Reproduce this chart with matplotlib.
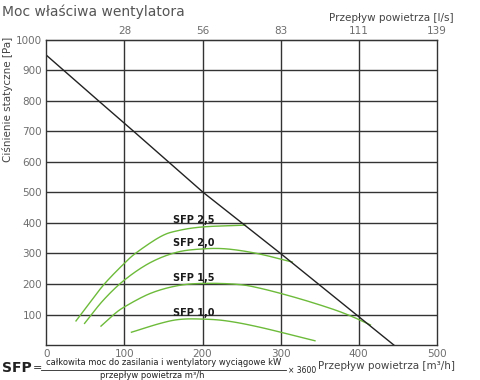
import numpy as np
import matplotlib.pyplot as plt

# data (x in m3/h, y in Pa)
line_x = [0, 67, 112, 201, 300, 445]
line_y = [950, 800, 700, 500, 300, 0]

sfp25_x = [38, 56, 75, 100, 116, 146, 167, 200, 255]
sfp25_y = [79, 140, 202, 268, 304, 355, 374, 387, 393]
sfp20_x = [49, 73, 100, 133, 167, 200, 231, 270, 315]
sfp20_y = [71, 147, 213, 270, 304, 315, 315, 300, 272]
sfp15_x = [70, 85, 100, 133, 167, 200, 244, 274, 320, 364, 390, 415]
sfp15_y = [62, 97, 125, 169, 194, 202, 199, 186, 155, 120, 95, 66]
sfp10_x = [109, 146, 171, 200, 231, 274, 344]
sfp10_y = [42, 71, 84, 85, 79, 58, 14]

labels = ["SFP 2,5", "SFP 2,0", "SFP 1,5", "SFP 1,0"]
label_y = [410, 335, 221, 106]
label_x = 162

x_ticks = [0, 100, 200, 300, 400, 500]
y_ticks = [100, 200, 300, 400, 500, 600, 700, 800, 900, 1000]
top_labels = ["28", "56", "83", "111", "139"]

grid_c = "#333333"
green = "#6dbb3a"
gray = "#6e6e6e"


def smooth(xs, ys, n=20):
    # catmull-rom curve through the read points, for drawing only
    p = np.column_stack([xs, ys]).astype(float)
    p = np.vstack([2 * p[0] - p[1], p, 2 * p[-1] - p[-2]])
    out = []
    t = np.linspace(0, 1, n, endpoint=False)[:, None]
    for i in range(1, len(p) - 2):
        p0, p1, p2, p3 = p[i - 1], p[i], p[i + 1], p[i + 2]
        out.append(0.5 * ((2 * p1) + (-p0 + p2) * t + (2 * p0 - 5 * p1 + 4 * p2 - p3) * t ** 2
                          + (-p0 + 3 * p1 - 3 * p2 + p3) * t ** 3))
    out.append(p[-2][None, :])
    out = np.vstack(out)
    return out[:, 0], out[:, 1]


fig = plt.figure(figsize=(4.8, 3.8), dpi=100)
ax = fig.add_axes([0.0965, 0.092, 0.8135, 0.803])
ax.set_xlim(0, 500)
ax.set_ylim(0, 1000)

for v in x_ticks[1:-1]:
    ax.axvline(v, color=grid_c, lw=1.0)
for v in y_ticks[:-1]:
    ax.axhline(v, color=grid_c, lw=1.0)

for xs, ys in [(sfp25_x, sfp25_y), (sfp20_x, sfp20_y), (sfp15_x, sfp15_y), (sfp10_x, sfp10_y)]:
    sx, sy = smooth(xs, ys)
    ax.plot(sx, sy, color=green, lw=1.0)
ax.plot(line_x, line_y, color="#222222", lw=1.0)

for t, yy in zip(labels, label_y):
    ax.text(label_x, yy, t, fontsize=7, fontweight="semibold", color="#1a1a1a", va="center", ha="left")

for s in ax.spines.values():
    s.set_color(grid_c)
    s.set_linewidth(1.0)

ax.set_xticks(x_ticks)
ax.set_yticks(y_ticks)
ax.tick_params(length=0, labelsize=7.5, labelcolor=gray, pad=3)

top = ax.secondary_xaxis("top")
top.set_xticks(x_ticks[1:])
top.set_xticklabels(top_labels)
top.tick_params(length=0, labelsize=7.5, labelcolor=gray, pad=3)

ax.set_ylabel("Ciśnienie statyczne [Pa]", fontsize=7.5, color="#444444", labelpad=4)
ax.yaxis.set_label_coords(-0.085, 1.01)
ax.yaxis.label.set_va("bottom")
ax.yaxis.label.set_ha("right")

fig.text(0.004, 0.968, "Moc właściwa wentylatora", fontsize=10, color="#555555", va="center")
fig.text(0.946, 0.953, "Przepływ powietrza [l/s]", fontsize=7.5, color="#444444", ha="right", va="center")
fig.text(0.948, 0.037, "Przepływ powietrza [m³/h]", fontsize=7.5, color="#444444", ha="right", va="center")

# SFP formula
fig.text(0.004, 0.032, "SFP", fontsize=10, fontweight="bold", color="#222222", va="center")
fig.text(0.068, 0.032, "=", fontsize=8, color="#222222", va="center")
fig.text(0.34, 0.046, "całkowita moc do zasilania i wentylatory wyciągowe kW",
         fontsize=6, color="#222222", ha="center", va="center")
fig.text(0.318, 0.011, "przepływ powietrza m³/h", fontsize=6, color="#222222", ha="center", va="center")
fig.add_artist(plt.Line2D([0.085, 0.595], [0.027, 0.027], color="#222222", lw=0.6))
fig.text(0.6, 0.024, "× 3600", fontsize=5.5, color="#222222", va="center")

fig.savefig("out.png", dpi=100)
